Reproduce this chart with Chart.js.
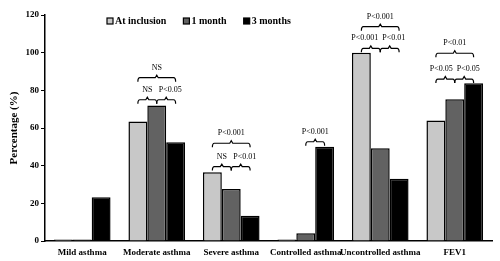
<!DOCTYPE html>
<html>
<head>
<meta charset="utf-8">
<script src="https://cdn.jsdelivr.net/npm/chart.js@4"></script>
<style>
html, body { margin: 0; padding: 0; background: #fff; }
#wrap { width: 500px; height: 261px; }
</style>
</head>
<body>
<div id="wrap"><canvas id="asthmaChart"></canvas></div>
<script>
var categories = ['Mild asthma', 'Moderate asthma', 'Severe asthma', 'Controlled asthma', 'Uncontrolled asthma', 'FEV1'];
var seriesNames = ['At inclusion', '1 month', '3 months'];
var atInclusion = [0.8, 63.4, 36.5, 0.8, 100, 64];
var oneMonth = [0.8, 72, 27.6, 4.1, 49.2, 75.2];
var threeMonths = [23.2, 52.4, 13.4, 50, 33, 83.7];
var seriesColors = ['#c8c8c8', '#626262', '#000000'];

// significance brackets: category, from series, to series, height (%), label
var brackets = [
 [1, 0, 1, 75, 'NS'],
 [1, 1, 2, 75, 'P<0.05'],
 [1, 0, 2, 86.7, 'NS'],
 [2, 0, 1, 39.5, 'NS'],
 [2, 1, 2, 39.5, 'P<0.01'],
 [2, 0, 2, 51.9, 'P<0.001'],
 [3, 1, 2, 52.7, 'P<0.001'],
 [4, 0, 1, 102.3, 'P<0.001'],
 [4, 1, 2, 102.3, 'P<0.01'],
 [4, 0, 2, 113.8, 'P<0.001'],
 [5, 0, 1, 86, 'P<0.05'],
 [5, 1, 2, 86, 'P<0.05'],
 [5, 0, 2, 99.7, 'P<0.01']
];

var serif = '"Liberation Serif", "Times New Roman", serif';

var bracketPlugin = {
 id: 'brackets',
 afterDatasetsDraw: function(chart) {
  var ctx = chart.ctx;
  var yScale = chart.scales.y;
  ctx.save();
  ctx.strokeStyle = '#000';
  ctx.fillStyle = '#000';
  ctx.lineWidth = 1.2;
  ctx.font = '8px ' + serif;
  ctx.textAlign = 'center';
  ctx.textBaseline = 'middle';
  brackets.forEach(function(b) {
   var x1 = chart.getDatasetMeta(b[1]).data[b[0]].x;
   var x2 = chart.getDatasetMeta(b[2]).data[b[0]].x;
   var cx = chart.getDatasetMeta(1).data[b[0]].x;
   var py = yScale.getPixelForValue(b[3]);
   var mid = (x1 + x2) / 2;
   ctx.beginPath();
   ctx.moveTo(x1, py + 4);
   ctx.quadraticCurveTo(x1, py, x1 + 2, py);
   ctx.lineTo(mid - 1.5, py);
   ctx.lineTo(mid, py - 2.5);
   ctx.lineTo(mid + 1.5, py);
   ctx.lineTo(x2 - 2, py);
   ctx.quadraticCurveTo(x2, py, x2, py + 4);
   ctx.stroke();
   // keep the two lower labels apart
   var w = ctx.measureText(b[4]).width;
   var tx = mid;
   var pair = brackets.filter(function(o) { return o[0] === b[0] && o[3] === b[3]; }).length > 1;
   if (pair && b[1] === 0 && b[2] === 1) tx = Math.min(mid, cx - 2 - w / 2);
   if (pair && b[1] === 1 && b[2] === 2) tx = Math.max(mid, cx + 2 + w / 2);
   ctx.fillText(b[4], tx, py - 10);
  });
  ctx.restore();
 }
};

// legend drawn inside the plot area, like the original figure
var legendPlugin = {
 id: 'innerLegend',
 afterDraw: function(chart) {
  var ctx = chart.ctx;
  var x = 107, y = 21;
  ctx.save();
  ctx.font = 'bold 10px ' + serif;
  ctx.textBaseline = 'middle';
  ctx.textAlign = 'left';
  chart.data.datasets.forEach(function(ds) {
   ctx.fillStyle = ds.backgroundColor;
   ctx.fillRect(x, y - 3, 6, 6);
   ctx.strokeStyle = '#000';
   ctx.lineWidth = 1.2;
   ctx.strokeRect(x, y - 3, 6, 6);
   ctx.fillStyle = '#000';
   ctx.fillText(ds.label, x + 8, y + 0.5);
   x += 8 + ctx.measureText(ds.label).width + 17;
  });
  ctx.restore();
 }
};

var ctx = document.getElementById('asthmaChart').getContext('2d');
var values = [atInclusion, oneMonth, threeMonths];

new Chart(ctx, {
 type: 'bar',
 data: {
  labels: categories,
  datasets: seriesNames.map(function(name, i) {
   return {
    label: name,
    data: values[i],
    backgroundColor: seriesColors[i],
    borderColor: '#000',
    borderWidth: 1.5,
    categoryPercentage: 0.76,
    barPercentage: 1
   };
  })
 },
 options: {
  responsive: true,
  maintainAspectRatio: false,
  animation: false,
  devicePixelRatio: 1,
  layout: { padding: { top: 15, right: 8, left: 0, bottom: 0 } },
  plugins: {
   legend: { display: false },
   tooltip: { enabled: false }
  },
  scales: {
   x: {
    grid: { display: false, drawTicks: false },
    border: { display: true, color: '#000', width: 1.5 },
    ticks: {
     color: '#000',
     padding: 6,
     maxRotation: 0,
     autoSkip: false,
     font: { family: serif, size: 9, weight: 'bold' }
    },
    afterFit: function(scale) { scale.height = 20; }
   },
   y: {
    min: 0,
    max: 120,
    grid: { display: true, drawOnChartArea: false, drawTicks: true, tickLength: 4, color: '#000' },
    border: { display: true, color: '#000', width: 1.5 },
    ticks: {
     stepSize: 20,
     color: '#000',
     padding: 2,
     font: { family: serif, size: 9, weight: 'bold' }
    },
    title: {
     display: true,
     text: 'Percentage (%)',
     color: '#000',
     padding: { top: 8, bottom: 0 },
     font: { family: serif, size: 11, weight: 'bold' }
    },
    afterFit: function(scale) { scale.width = 45; }
   }
  }
 },
 plugins: [bracketPlugin, legendPlugin]
});
</script>
</body>
</html>
